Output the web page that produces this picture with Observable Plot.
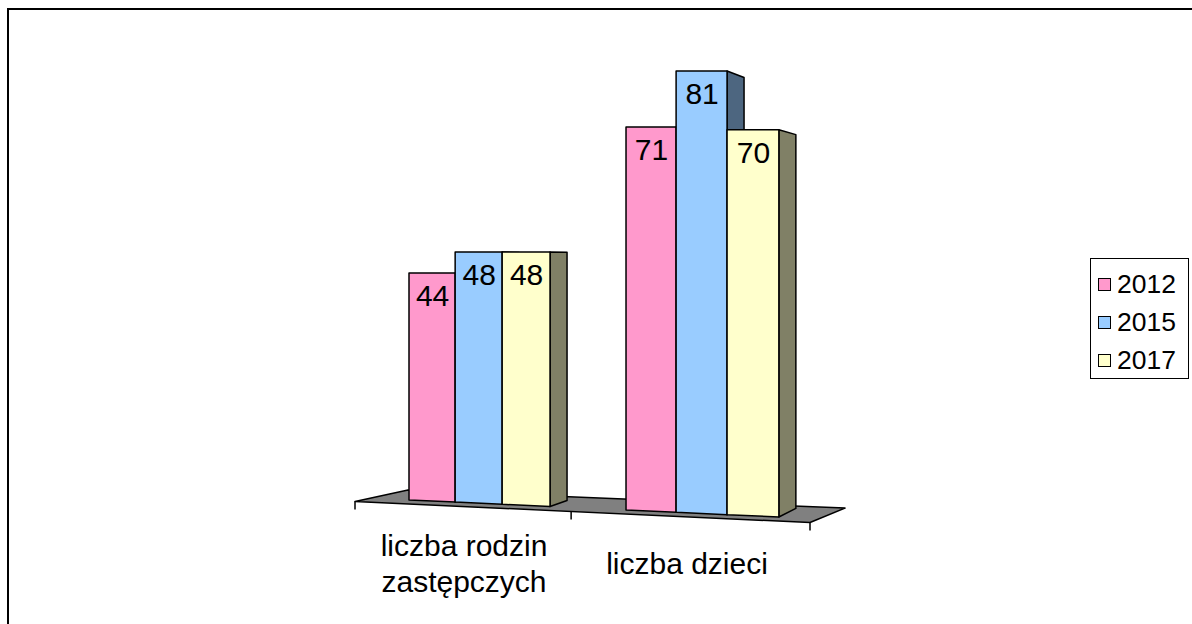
<!DOCTYPE html>
<html>
<head>
<meta charset="utf-8">
<script src="https://cdn.jsdelivr.net/npm/d3@7"></script>
<script src="https://cdn.jsdelivr.net/npm/@observablehq/plot@0.6"></script>
<style>
  html, body { margin: 0; padding: 0; background: #fff; }
  #wrap { position: relative; width: 1192px; height: 624px; overflow: hidden; font-family: "Liberation Sans", Arial, sans-serif; }
  #frame { position: absolute; left: 7px; top: 8px; width: 1190px; height: 620px; border-left: 2px solid #000; border-top: 2px solid #000; box-sizing: border-box; pointer-events: none; }
  #chart { position: absolute; left: 0; top: 0; }
  #legend { position: absolute; left: 1090px; top: 258px; width: 99px; height: 121px; border: 1.5px solid #000; box-sizing: border-box; background: #fff; padding-top: 6px; }
  .item { display: flex; align-items: center; height: 38px; padding-left: 7px; font-size: 26.5px; color: #000; }
  .sw { width: 13px; height: 13px; border: 1.5px solid #000; box-sizing: border-box; margin-right: 6px; }
</style>
</head>
<body>
<div id="wrap">
  <div id="chart"></div>
  <div id="frame"></div>
  <div id="legend"></div>
</div>
<script>
// ---- data ----
const categories = ["liczba rodzin zastępczych", "liczba dzieci"];
const years = ["2012", "2015", "2017"];
const values2012 = [44, 71];
const values2015 = [48, 81];
const values2017 = [48, 70];
const yearColors = ["#ff99cc", "#99ccff", "#ffffcc"];

const rows = [];
[values2012, values2015, values2017].forEach((vals, j) =>
  vals.forEach((v, i) => rows.push({category: categories[i], year: years[j], value: v}))
);

// ---- pseudo-3D perspective parameters ----
const SLOPE = 0.046, GROW = 0.0002, DEPTH = 17, VY = 270, K0 = 0.02, K1 = 0.00004, WARP = 0.00018;

function bandwidthOf(s) { return typeof s.bandwidth === "function" ? s.bandwidth() : s.bandwidth; }

function barGeom(d, scales) {
  const X0 = scales.fx(categories[0]);
  const X1 = scales.fx(categories[categories.length - 1]) + bandwidthOf(scales.fx);
  const warp = ax => ax - WARP * (ax - X0) * (X1 - ax); // horizontal perspective
  const y0 = scales.y(0);
  const bw = bandwidthOf(scales.x);
  const off = scales.fx(d.category) - scales.x(years[0]);
  const ax1 = warp(scales.x(d.year) + off), ax2 = warp(scales.x(d.year) + bw + off), axc = (ax1 + ax2) / 2;
  const lx1 = ax1 - off, lx2 = ax2 - off;
  const base = ax => y0 + SLOPE * (ax - X0);
  const h = (y0 - scales.y(d.value)) * (1 + GROW * (axc - X0));
  const top = base(axc) - h;
  return {lx1, lx2, lxc: (lx1 + lx2) / 2, top, b1: base(ax1), b2: base(ax2), ax2, X0, bw};
}

function poly(pts) { return "M" + pts.map(p => p.join(",")).join("L") + "Z"; }

function renderBars(index, scales) {
  const g = d3.create("svg:g");
  const geoms = Array.from(index, i => ({d: rows[i], ...barGeom(rows[i], scales)}));
  for (const q of geoms) {
    const k = K0 + K1 * (q.ax2 - q.X0);
    const bk = y => y + (VY - y) * k;
    const c = d3.rgb(scales.color(q.d.year));
    g.append("path")
      .attr("d", poly([[q.lx2, q.top], [q.lx2 + DEPTH, bk(q.top)], [q.lx2 + DEPTH, bk(q.b2)], [q.lx2, q.b2]]))
      .attr("fill", d3.rgb(c.r / 2, c.g / 2, c.b / 2).formatHex())
      .attr("stroke", "#000").attr("stroke-width", 1.5).attr("stroke-linejoin", "round");
  }
  for (const q of geoms) {
    g.append("path")
      .attr("d", poly([[q.lx1, q.top], [q.lx2, q.top], [q.lx2, q.b2], [q.lx1, q.b1]]))
      .attr("fill", scales.color(q.d.year))
      .attr("stroke", "#000").attr("stroke-width", 1.5).attr("stroke-linejoin", "round");
  }
  return g.node();
}

function renderValues(index, scales, values, dimensions, context, next) {
  const X = new Float64Array(rows.length), Y = new Float64Array(rows.length);
  for (const i of index) {
    const q = barGeom(rows[i], scales);
    // Plot centres text in the band itself, so pass the band start
    X[i] = q.lxc - q.bw / 2; Y[i] = q.top + 23;
  }
  return next(index, scales, {...values, x: X, y: Y}, dimensions, context);
}

function renderFloor(index, scales) {
  const X0 = scales.fx(categories[0]);
  const X1 = scales.fx(categories[categories.length - 1]) + bandwidthOf(scales.fx);
  const y0 = scales.y(0);
  const base = ax => y0 + SLOPE * (ax - X0);
  const front = x => base(x) + 4;
  const fl = X0 - 53, fr = X1 + 30, br = X1 + 65;
  const g = d3.create("svg:g");
  g.append("path")
    .attr("d", poly([[fl, front(fl)], [X0, y0 - 10], [br, base(br) - 12], [fr, front(fr)]]))
    .attr("fill", "#808080").attr("stroke", "#000").attr("stroke-width", 1.5).attr("stroke-linejoin", "round");
  const ticks = [fl, fl + 0.475 * (fr - fl), fr];
  for (const t of ticks) {
    g.append("line").attr("x1", t).attr("x2", t).attr("y1", front(t)).attr("y2", front(t) + 8)
      .attr("stroke", "#000").attr("stroke-width", 1.5);
  }
  return g.node();
}

const chart = Plot.plot({
  width: 1192,
  height: 624,
  marginLeft: 408,
  marginRight: 412,
  marginTop: 0,
  marginBottom: 0,
  style: {fontFamily: "Liberation Sans, Arial, sans-serif", background: "transparent"},
  fx: {domain: categories, paddingInner: 0.332, paddingOuter: 0, axis: null},
  x: {domain: years, padding: 0, axis: null},
  y: {domain: [0, 90], range: [500, 500 - 5.16 * 90], axis: null},
  color: {domain: years, range: yearColors},
  marks: [
    Plot.frame({facet: "super", render: renderFloor}),
    Plot.barY(rows, {fx: "category", x: "year", y: "value", fill: "year", render: renderBars}),
    Plot.text(rows, {fx: "category", x: "year", y: "value", text: d => String(d.value),
      fontSize: 30, fill: "#000", lineAnchor: "middle", render: renderValues}),
    Plot.text(categories, {fx: d => d, text: d => d, frameAnchor: "bottom", lineAnchor: "middle",
      lineWidth: 7, lineHeight: 1.2, fontSize: 30, fill: "#000", dx: -19, dy: -62})
  ]
});
document.getElementById("chart").appendChild(chart);

// ---- legend ----
const legend = document.getElementById("legend");
years.forEach((y, j) => {
  const item = document.createElement("div");
  item.className = "item";
  const sw = document.createElement("div");
  sw.className = "sw";
  sw.style.background = yearColors[j];
  const label = document.createElement("span");
  label.textContent = y;
  item.appendChild(sw);
  item.appendChild(label);
  legend.appendChild(item);
});
</script>
</body>
</html>
